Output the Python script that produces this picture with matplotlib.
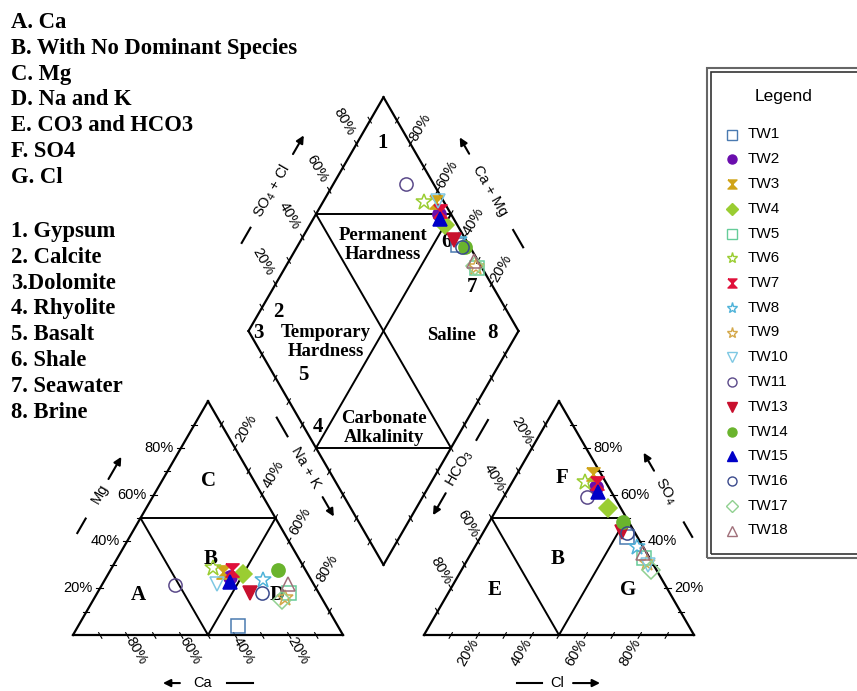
import numpy as np
import matplotlib
matplotlib.use("Agg")
import matplotlib.pyplot as plt
from matplotlib.patches import Rectangle

plt.rcParams["mathtext.fontset"] = "custom"
plt.rcParams["mathtext.rm"] = "Liberation Sans"
SERIF = "Liberation Serif"
SANS = "Liberation Sans"

# milliequivalent percentages
samples = ["TW1", "TW2", "TW3", "TW4", "TW5", "TW6", "TW7", "TW8", "TW9",
           "TW10", "TW11", "TW13", "TW14", "TW15", "TW16", "TW17", "TW18"]
ca   = [37, 29.5, 31, 24, 11, 34, 27, 18, 13.5, 35.5, 51.5, 25.5, 10, 30.5, 21, 15, 9.5]
mg   = [4, 25, 27, 26, 18, 28.5, 28, 23.5, 16, 22, 21.5, 18, 28, 22.5, 18, 15, 22]
nak  = [59, 45.5, 42, 50, 71, 37.5, 45, 58.5, 70.5, 42.5, 27, 56.5, 62, 47, 61, 70, 68.5]
hco3 = [4, 4.5, 3, 4.5, 2, 7.5, 3.5, 2.5, 2, 2, 10, 4.5, 2, 5, 3, 2, 1.5]
so4  = [42, 63.5, 69, 54.5, 33, 65.5, 65, 37.5, 31, 30, 59, 44, 48.5, 61, 43.5, 28, 35]
cl   = [54, 32, 28, 41, 65, 27, 31.5, 60, 67, 68, 31, 51.5, 49.5, 34, 53.5, 70, 63.5]

hourglass = [(-1, 1), (1, 1), (-1, -1), (1, -1), (-1, 1)]
markers = ["s", "o", hourglass, "D", "s", "*", hourglass, "*", "*",
           "v", "o", "v", "o", "^", "o", "D", "^"]
colors = ["#4a7ab0", "#6a0dad", "#d0a418", "#9acd32", "#66cc99", "#9acd32",
          "#e0103a", "#4fb3d9", "#d4a84a", "#7ec8e3", "#5b4a8a", "#c8102e",
          "#6ab42d", "#0000c8", "#3b4a8c", "#90d090", "#a0707a"]
filled = [False, True, True, True, False, False, True, False, False,
          False, False, True, True, True, False, False, False]

facies = ["A. Ca", "B. With No Dominant Species", "C. Mg", "D. Na and K",
          "E. CO3 and HCO3", "F. SO4", "G. Cl"]
rocks = ["1. Gypsum", "2. Calcite", "3.Dolomite", "4. Rhyolite", "5. Basalt",
         "6. Shale", "7. Seawater", "8. Brine"]

H = np.sqrt(3) / 2
GAP = 30


def cation_xy(ca, mg, na):
    return np.asarray(na) + np.asarray(mg) / 2, np.asarray(mg) * H


def anion_xy(hco3, so4, cl):
    return 100 + GAP + np.asarray(cl) + np.asarray(so4) / 2, np.asarray(so4) * H


def diamond_xy(na, so4cl):
    t = 100 + GAP + np.asarray(so4cl) - np.asarray(na)
    return np.asarray(na) + t / 2, t * H


fig = plt.figure(figsize=(8.57, 6.91), dpi=100)
ax = fig.add_axes([0, 0, 1, 1])
PX = 2.7  # pixels per unit
ax.set_xlim(-73 / PX, (857 - 73) / PX)
ax.set_ylim(-(691 - 635) / PX, 635 / PX)
ax.axis("off")


def px(x, y):
    return (x - 73) / PX, (635 - y) / PX


def seg(a, b, lw=1.6):
    ax.plot([a[0], b[0]], [a[1], b[1]], color="k", lw=lw, zorder=2,
            solid_capstyle="projecting")


# frame geometry
L0, L1, L2 = (0, 0), (100, 0), (50, 100 * H)
R0, R1, R2 = (130, 0), (230, 0), (180, 100 * H)
Db, Dr, Dt, Dl = diamond_xy(100, 0), diamond_xy(100, 100), diamond_xy(0, 100), diamond_xy(0, 0)

for tri in [(L0, L1, L2), (R0, R1, R2), (Db, Dr, Dt, Dl)]:
    for i in range(len(tri)):
        seg(tri[i], tri[(i + 1) % len(tri)])

for a, b, c in [(L0, L1, L2), (R0, R1, R2)]:
    m_l = ((a[0] + c[0]) / 2, (a[1] + c[1]) / 2)
    m_r = ((b[0] + c[0]) / 2, (b[1] + c[1]) / 2)
    m_b = ((a[0] + b[0]) / 2, 0)
    seg(m_l, m_r, 1.4)
    seg(m_l, m_b, 1.4)
    seg(m_r, m_b, 1.4)

ul, ur = diamond_xy(0, 50), diamond_xy(50, 100)
ll, lr = diamond_xy(50, 0), diamond_xy(100, 50)
seg(ul, ur, 1.4)
seg(ll, lr, 1.4)
seg(ul, lr, 1.4)
seg(ur, ll, 1.4)


# ticks and percentage labels
def axis_ticks(p0, p100, out, dist=None, rot=0, ha="center"):
    p0, p100, out = np.array(p0, float), np.array(p100, float), np.array(out, float)
    for v in range(10, 100, 10):
        p = p0 + (p100 - p0) * v / 100
        seg(p - out * 1.0, p + out * 1.4, lw=0.8)
        if dist is not None and v % 20 == 0:
            q = p + out * dist
            ax.text(q[0], q[1], f"{v}%", rotation=rot, ha=ha, va="center",
                    rotation_mode="anchor", fontsize=10.5, family=SANS)


axis_ticks(L1, L0, (0.5, -H), 6.5, -60)
axis_ticks(L0, L2, (-1, 0), 2.8, 0, "right")
axis_ticks(L2, L1, (0.5, H), 8.5, 60)
axis_ticks(R0, R1, (-0.5, -H), 7.5, 60)
axis_ticks(R1, R2, (1, 0), 2.8, 0, "left")
axis_ticks(R2, R0, (-0.5, H), 7.5, -60)
axis_ticks(Dl, Dt, (-0.5, H), 9.5, -60)
axis_ticks(Dr, Dt, (0.5, H), 7.0, 60)
axis_ticks(Dl, Db, (-0.5, -H))
axis_ticks(Db, Dr, (0.5, -H))


# axis titles with dash and arrow
def edge_title(p0, p1, out, text, s_txt, dash, arrow, off, rot):
    p0, p1, out = np.array(p0, float), np.array(p1, float), np.array(out, float)
    d = (p1 - p0) / np.linalg.norm(p1 - p0)
    pos = lambda s: p0 + d * s + out * off
    t = pos(s_txt)
    ax.text(t[0], t[1], text, rotation=rot, ha="center", va="center",
            rotation_mode="anchor", fontsize=10.5, family=SANS)
    a, b = pos(dash[0]), pos(dash[1])
    ax.plot([a[0], b[0]], [a[1], b[1]], color="k", lw=1.5)
    a, b = pos(arrow[0]), pos(arrow[1])
    ax.annotate("", xy=b, xytext=a,
                arrowprops=dict(arrowstyle="-|>", color="k", lw=1.5,
                                mutation_scale=11, shrinkA=0, shrinkB=0))


edge_title(L0, L2, (-H, 0.5), "Mg", 50.5, (33.5, 39.7), (56.6, 66.1), 17.5, 60)
edge_title(L0, L1, (0, -1), "Ca", 48.1, (57, 66.7), (39.6, 33.3), 17.8, 0)
edge_title(L2, L1, (H, 0.5), "Na + K", 39.5, (18, 26), (52, 60.3), 19, -60)
edge_title(R0, R1, (0, -1), "Cl", 49.3, (34.4, 43.7), (55.2, 65.2), 17.8, 0)
edge_title(R0, R2, (-H, 0.5), r"HCO$_3$", 60, (72.3, 80.8), (49.5, 40.1), 19.3, 60)
edge_title(R1, R2, (H, 0.5), r"SO$_4$", 51.5, (31.8, 38), (60.1, 67.8), 17.6, -60)
edge_title(Dl, Dt, (-H, 0.5), r"SO$_4$ + Cl", 49.2, (27, 33.5), (65, 73), 18.5, 60)
edge_title(Dr, Dt, (H, 0.5), "Ca + Mg", 50.2, (26, 33.4), (66, 73), 17, -60)

# facies letters and diagram notes
bold = dict(family=SERIF, weight="bold", ha="center", va="center")
for s, x, y in [("C", 50, 57), ("B", 51, 28), ("A", 24.3, 15), ("D", 75.6, 15),
                ("F", 181, 58), ("B", 179.6, 28), ("E", 156, 16.5), ("G", 205.5, 16.5)]:
    ax.text(x, y, s, fontsize=15, **bold)

for s, x, y in [("1", 114.8, 182.2), ("6", 138.5, 145.6), ("7", 147.8, 128.9),
                ("2", 75.9, 119.6), ("3", 68.5, 111.9), ("5", 85.2, 96.3),
                ("8", 155.2, 111.9), ("4", 90.7, 77.0)]:
    ax.text(x, y, s, fontsize=15, **bold)

for s, x, y in [("Permanent\nHardness", 114.8, 144.5), ("Temporary\nHardness", 93.7, 108.4),
                ("Saline", 140, 111.1), ("Carbonate\nAlkalinity", 115.2, 76.5)]:
    ax.text(x, y, s, fontsize=13.5, linespacing=1.15, **bold)

# left side key
for i, s in enumerate(facies):
    ax.text(*px(11, 28 + 25.8 * i), s, family=SERIF, weight="bold", fontsize=16.3,
            va="baseline", ha="left")
for i, s in enumerate(rocks):
    ax.text(*px(11, 237 + 25.8 * i), s, family=SERIF, weight="bold", fontsize=16.3,
            va="baseline", ha="left")

# samples
cx, cy = cation_xy(ca, mg, nak)
axx, ayy = anion_xy(hco3, so4, cl)
dx, dy = diamond_xy(nak, np.array(so4) + np.array(cl))
for i, name in enumerate(samples):
    ms = 12 if markers[i] == "*" else 9.5
    style = dict(marker=markers[i], ms=ms, mec=colors[i], mew=1.1, ls="none",
                 mfc=colors[i] if filled[i] else "none", zorder=3)
    ax.plot(cx[i], cy[i], **style)
    ax.plot(axx[i], ayy[i], **style)
    ax.plot(dx[i], dy[i], **style)

# legend box
ax.add_patch(Rectangle(px(707, 558), (880 - 707) / PX, (558 - 68) / PX, fill=False,
                       ec="#666666", lw=1.5, clip_on=False, zorder=4))
ax.add_patch(Rectangle(px(711, 554), (880 - 711) / PX, (554 - 72) / PX, fill=False,
                       ec="#333333", lw=1.2, clip_on=False, zorder=4))
ax.text(*px(784, 97), "Legend", family=SANS, fontsize=12.5, ha="center", va="center")
for i, name in enumerate(samples):
    y = 134.5 + 24.75 * i
    ms = 8 if markers[i] == "*" else 6.5
    ax.plot(*px(732, y), marker=markers[i], ms=ms, mec=colors[i], mew=1,
            mfc=colors[i] if filled[i] else "none", ls="none")
    ax.text(*px(748, y), name, family=SANS, fontsize=11, ha="left", va="center")

fig.savefig("out.png", dpi=100)
